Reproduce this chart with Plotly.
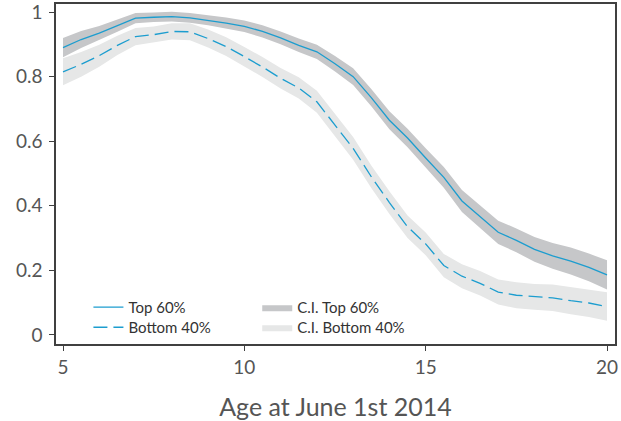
import plotly.graph_objects as go

age = [5.0, 5.5, 6.0, 6.5, 7.0, 7.5, 8.0, 8.5, 9.0, 9.5, 10.0, 10.5, 11.0, 11.5, 12.0,
       12.5, 13.0, 13.5, 14.0, 14.5, 15.0, 15.5, 16.0, 16.5, 17.0, 17.5, 18.0, 18.5,
       19.0, 19.5, 20.0]

top60 = [0.890, 0.915, 0.935, 0.958, 0.981, 0.984, 0.986, 0.982, 0.975, 0.966, 0.956,
         0.940, 0.920, 0.897, 0.877, 0.840, 0.800, 0.735, 0.665, 0.610, 0.548, 0.488,
         0.415, 0.366, 0.318, 0.293, 0.265, 0.245, 0.229, 0.209, 0.186]
top60_hw = [0.030, 0.026, 0.022, 0.019, 0.016, 0.015, 0.015, 0.015, 0.016, 0.017, 0.018,
            0.019, 0.020, 0.021, 0.022, 0.024, 0.026, 0.027, 0.028, 0.029, 0.030, 0.032,
            0.034, 0.035, 0.036, 0.037, 0.038, 0.040, 0.042, 0.043, 0.045]

bot40 = [0.815, 0.838, 0.865, 0.897, 0.924, 0.930, 0.940, 0.939, 0.918, 0.893, 0.862,
         0.830, 0.795, 0.765, 0.722, 0.650, 0.578, 0.490, 0.410, 0.335, 0.282, 0.215,
         0.182, 0.160, 0.133, 0.123, 0.118, 0.115, 0.106, 0.099, 0.088]
bot40_hw = [0.042, 0.038, 0.034, 0.030, 0.027, 0.025, 0.025, 0.026, 0.028, 0.029, 0.030,
            0.031, 0.032, 0.033, 0.034, 0.035, 0.035, 0.035, 0.035, 0.035, 0.035, 0.036,
            0.037, 0.038, 0.039, 0.040, 0.040, 0.041, 0.042, 0.043, 0.044]

x_ticks = [5, 10, 15, 20]
y_ticks = [0, 0.2, 0.4, 0.6, 0.8, 1]
y_labels = ["0", "0.2", "0.4", "0.6", "0.8", "1"]

LINE = "#1C9DCF"
BAND_TOP = "#C6C7C9"
BAND_BOT = "#E6E7E7"
FONT = "Lato"
TXT = "#555555"

def band(x, y, hw):
    lo = [a - b for a, b in zip(y, hw)]
    hi = [a + b for a, b in zip(y, hw)]
    return x + x[::-1], hi + lo[::-1]

fig = go.Figure()
bx, by = band(age, bot40, bot40_hw)
fig.add_trace(go.Scatter(x=bx, y=by, fill="toself", fillcolor=BAND_BOT, mode="lines",
                         line=dict(width=0, color=BAND_BOT), name="C.I. Bottom 40%",
                         legend="legend4", hoverinfo="skip"))
tx, ty = band(age, top60, top60_hw)
fig.add_trace(go.Scatter(x=tx, y=ty, fill="toself", fillcolor=BAND_TOP, mode="lines",
                         line=dict(width=0, color=BAND_TOP), name="C.I. Top 60%",
                         legend="legend3", hoverinfo="skip"))
fig.add_trace(go.Scatter(x=age, y=top60, mode="lines", name="Top 60%",
                         line=dict(color=LINE, width=1.3), legend="legend"))
fig.add_trace(go.Scatter(x=age, y=bot40, mode="lines", name="Bottom 40%",
                         line=dict(color=LINE, width=1.3, dash="14px,6px"),
                         legend="legend2"))

axis_common = dict(showline=True, mirror=True, linecolor="#404040", linewidth=1.5,
                   ticks="outside", ticklen=5, tickcolor="#404040", tickwidth=1,
                   showgrid=False, zeroline=False, automargin=False,
                   ticklabeloverflow="allow")

leg_common = dict(xanchor="left", yanchor="top", bgcolor="rgba(0,0,0,0)",
                  font=dict(family=FONT, size=15, color="#333333"), itemwidth=30)

fig.update_layout(
    width=621, height=421,
    margin=dict(l=56, r=6, t=4, b=77),
    plot_bgcolor="white", paper_bgcolor="white",
    xaxis=dict(range=[4.807, 20.22], tickvals=x_ticks,
               tickfont=dict(family=FONT, size=19, color=TXT),
               title=dict(text="Age at June 1st 2014", standoff=24,
                          font=dict(family=FONT, size=25, color=TXT)),
               **axis_common),
    yaxis=dict(range=[-0.028, 1.025], tickvals=y_ticks, ticktext=y_labels,
               tickfont=dict(family=FONT, size=19, color=TXT), ticklabelstandoff=3,
               **axis_common),
    legend=dict(x=0.058, y=0.156, **leg_common),
    legend2=dict(x=0.058, y=0.097, **leg_common),
    legend3=dict(x=0.36, y=0.156, **leg_common),
    legend4=dict(x=0.36, y=0.097, **leg_common),
    showlegend=True,
)

fig.write_html("out.html", post_script="document.body.style.margin='0';",
               config={"displayModeBar": False})
